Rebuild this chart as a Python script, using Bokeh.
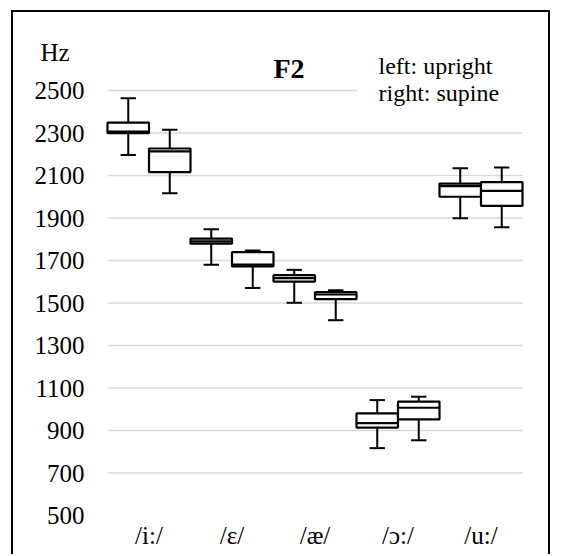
from bokeh.plotting import figure
from bokeh.models import Range1d, FixedTicker, Label, BoxAnnotation, ColumnDataSource
from bokeh.embed import file_html
from bokeh.resources import INLINE

# ---- data ----
vowels = ["/i:/", "/ɛ/", "/æ/", "/ɔ:/", "/u:/"]
series = ["upright", "supine"]
upright_low = [2197, 1680, 1501, 817, 1899]
upright_q1 = [2299, 1779, 1601, 914, 2000]
upright_med = [2307, 1790, 1617, 935, 2050]
upright_q3 = [2349, 1803, 1631, 981, 2062]
upright_high = [2464, 1847, 1656, 1043, 2134]
supine_low = [2017, 1571, 1419, 854, 1857]
supine_q1 = [2116, 1672, 1518, 952, 1957]
supine_med = [2214, 1681, 1540, 1007, 2028]
supine_q3 = [2227, 1739, 1551, 1036, 2069]
supine_high = [2315, 1747, 1560, 1059, 2138]
y_ticks = [500, 700, 900, 1100, 1300, 1500, 1700, 1900, 2100, 2300, 2500]

FONT = "Liberation Serif"

p = figure(width=539, height=544, output_backend="svg", toolbar_location=None,
           title=None, x_range=Range1d(-2.265, 10.723),
           y_range=Range1d(307.06, 2867.06),
           min_border_left=0, min_border_right=0, min_border_top=0,
           min_border_bottom=0)
p.outline_line_color = None
p.styles = {"border-top": "2px solid black", "border-left": "2px solid black",
            "border-right": "2px solid black", "margin-left": "11px",
            "margin-top": "10px"}

# grid (drawn over the value range only)
p.xgrid.visible = False
p.ygrid.visible = False
gy = y_ticks[1:]
p.segment(x0=[0] * len(gy), x1=[10] * len(gy), y0=gy, y1=gy,
          line_color="#d9d9d9", line_width=1.5)

# axes placed inside the frame
p.yaxis.fixed_location = 0
p.yaxis.ticker = FixedTicker(ticks=y_ticks)
p.yaxis.axis_line_color = None
p.yaxis.major_tick_line_color = None
p.yaxis.minor_tick_line_color = None
p.yaxis.major_label_standoff = 17
p.yaxis.major_label_text_font = FONT
p.yaxis.major_label_text_font_size = "25px"
p.yaxis.major_label_text_color = "black"

xt = [2 * i + 1 for i in range(len(vowels))]
p.xaxis.fixed_location = 500
p.xaxis.ticker = FixedTicker(ticks=xt)
p.xaxis.major_label_overrides = {t: v for t, v in zip(xt, vowels)}
p.xaxis.axis_line_color = None
p.xaxis.major_tick_line_color = None
p.xaxis.minor_tick_line_color = None
p.xaxis.major_label_standoff = 0
p.xaxis.major_label_text_font = FONT
p.xaxis.major_label_text_font_size = "25px"
p.xaxis.major_label_text_color = "black"

cap = 0.185
for k, (lo, q1, med, q3, hi) in enumerate([
        (upright_low, upright_q1, upright_med, upright_q3, upright_high),
        (supine_low, supine_q1, supine_med, supine_q3, supine_high)]):
    xs = [2 * i + 0.5 + k for i in range(len(vowels))]
    src = ColumnDataSource(dict(
        x=xs, left=[x - 0.5 for x in xs], right=[x + 0.5 for x in xs],
        cl=[x - cap for x in xs], cr=[x + cap for x in xs],
        lo=lo, q1=q1, med=med, q3=q3, hi=hi))
    p.segment(x0="x", y0="q3", x1="x", y1="hi", source=src, line_color="black", line_width=2)
    p.segment(x0="x", y0="q1", x1="x", y1="lo", source=src, line_color="black", line_width=2)
    p.segment(x0="cl", y0="hi", x1="cr", y1="hi", source=src, line_color="black", line_width=2)
    p.segment(x0="cl", y0="lo", x1="cr", y1="lo", source=src, line_color="black", line_width=2)
    p.quad(left="left", right="right", bottom="q1", top="q3", source=src,
           fill_color="white", line_color="black", line_width=2.2)
    p.segment(x0="left", y0="med", x1="right", y1="med", source=src, line_color="black", line_width=2.2)

# white text box of the note (hides the top grid line)
p.add_layout(BoxAnnotation(left=6.02, right=10.2, bottom=2470, top=2700,
                           fill_color="white", fill_alpha=1, line_color=None))

# texts
p.add_layout(Label(x=-1.614, y=2679, text="Hz", text_font=FONT, text_font_size="25px",
                   text_color="black", text_baseline="alphabetic", text_align="left"))
p.add_layout(Label(x=4.0, y=2604, text="F2", text_font=FONT, text_font_size="28px",
                   text_font_style="bold", text_color="black",
                   text_baseline="alphabetic", text_align="left"))
p.add_layout(Label(x=6.53, y=2613, text="left: upright", text_font=FONT,
                   text_font_size="24px", text_color="black",
                   text_baseline="alphabetic", text_align="left"))
p.add_layout(Label(x=6.53, y=2486, text="right: supine", text_font=FONT,
                   text_font_size="24px", text_color="black",
                   text_baseline="alphabetic", text_align="left"))

open("out.html", "w").write(file_html(p, INLINE))
